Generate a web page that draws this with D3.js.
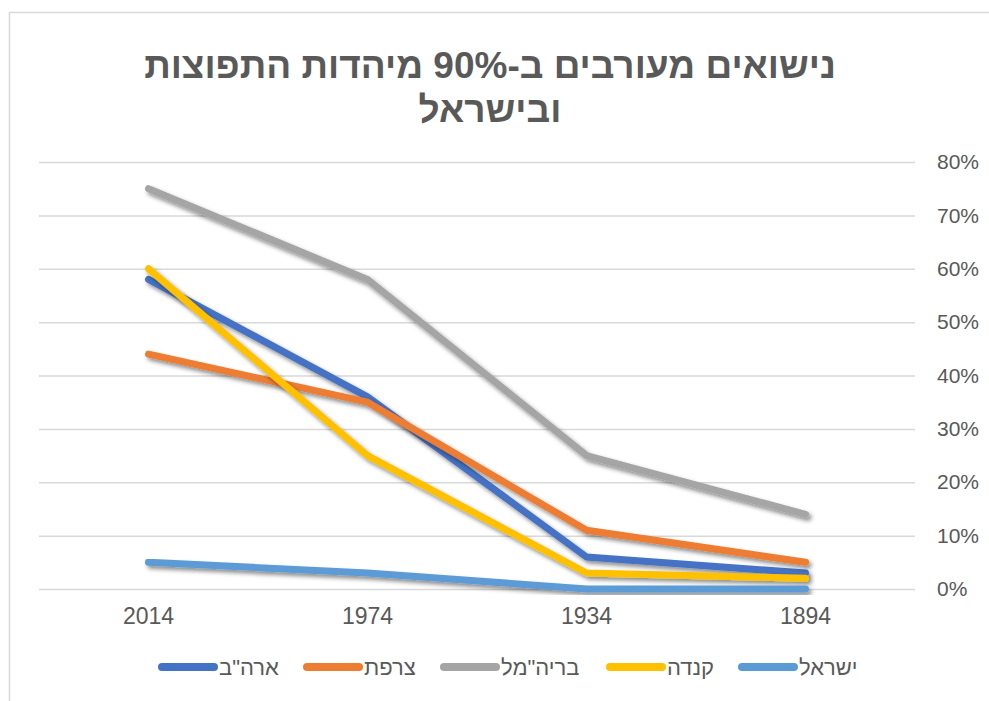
<!DOCTYPE html>
<html>
<head>
<meta charset="utf-8">
<script src="https://cdn.jsdelivr.net/npm/d3@7"></script>
<style>
	body { margin: 0; background: #fff; }
	text { font-family: "Liberation Sans", Arial, sans-serif; fill: #595959; }
</style>
</head>
<body>
<svg id="chart" width="989" height="701"></svg>
<script>
	"use strict";

	var titleLines = ["נישואים מעורבים ב-90% מיהדות התפוצות", "ובישראל"];
	var years = ["2014", "1974", "1934", "1894"];
	var yTicks = [0, 0.1, 0.2, 0.3, 0.4, 0.5, 0.6, 0.7, 0.8];

	var seriesNames = ["ארה\"ב", "צרפת", "בריה\"מל", "קנדה", "ישראל"];
	var seriesColors = ["#4472C4", "#ED7D31", "#A5A5A5", "#FFC000", "#5B9BD5"];
	var usaValues = [0.58, 0.36, 0.06, 0.03];
	var franceValues = [0.44, 0.35, 0.11, 0.05];
	var ussrValues = [0.75, 0.58, 0.25, 0.14];
	var canadaValues = [0.60, 0.25, 0.03, 0.02];
	var israelValues = [0.05, 0.03, 0.00, 0.00];

	var aSeries = [usaValues, franceValues, ussrValues, canadaValues, israelValues].map(function(v, i) {
		return { name: seriesNames[i], color: seriesColors[i], values: v };
	});

	var svg = d3.select("#chart");

	// chart frame (cut off on the right and bottom like the screenshot)
	svg.append("rect")
		.attr("x", 9.5)
		.attr("y", 12.5)
		.attr("width", 1100)
		.attr("height", 800)
		.attr("fill", "#fff")
		.attr("stroke", "#d9d9d9")
		.attr("stroke-width", 1.5);

	var defs = svg.append("defs");
	defs.append("filter")
		.attr("id", "shadow")
		.attr("x", "-10%").attr("y", "-10%")
		.attr("width", "120%").attr("height", "130%")
		.append("feDropShadow")
		.attr("dx", 2.5).attr("dy", 3)
		.attr("stdDeviation", 2.2)
		.attr("flood-color", "#000")
		.attr("flood-opacity", 0.45);

	svg.append("g")
		.selectAll("text")
		.data(titleLines)
		.join("text")
		.attr("x", 490)
		.attr("y", function(d, i) { return 78 + i * 44; })
		.attr("text-anchor", "middle")
		.attr("direction", "rtl")
		.style("font-size", "37px")
		.style("font-weight", "bold")
		.text(function(d) { return d; });

	var margin = { left: 39, right: 915, top: 162, bottom: 589 };

	var x = d3.scaleBand()
		.domain(years)
		.range([margin.left, margin.right]);

	var y = d3.scaleLinear()
		.domain([0, 0.8])
		.range([margin.bottom, margin.top]);

	// gridlines + right axis labels
	var yAxis = svg.append("g")
		.attr("transform", "translate(" + margin.right + ",0)")
		.call(d3.axisRight(y)
			.tickValues(yTicks)
			.tickSize(-(margin.right - margin.left))
			.tickPadding(22)
			.tickFormat(d3.format(".0%")));
	yAxis.select(".domain").remove();
	yAxis.selectAll("line")
		.attr("stroke", "#d9d9d9")
		.attr("stroke-width", 1.5);
	yAxis.selectAll("text")
		.attr("fill", "#595959")
		.style("font-size", "21px");

	var xAxis = svg.append("g")
		.attr("transform", "translate(0," + margin.bottom + ")")
		.call(d3.axisBottom(x).tickSize(0).tickPadding(19));
	xAxis.select(".domain").remove();
	xAxis.selectAll("text")
		.attr("fill", "#595959")
		.style("font-size", "23px");

	var line = d3.line()
		.x(function(d, i) { return x(years[i]) + x.bandwidth() / 2; })
		.y(function(d) { return y(d); });

	svg.append("g")
		.selectAll("path")
		.data(aSeries)
		.join("path")
		.attr("fill", "none")
		.attr("stroke", function(d) { return d.color; })
		.attr("stroke-width", 7)
		.attr("stroke-linejoin", "round")
		.attr("stroke-linecap", "round")
		.attr("filter", "url(#shadow)")
		.attr("d", function(d) { return line(d.values); });

	// legend
	var legendX = [162, 307, 444, 610, 742];
	var legend = svg.append("g")
		.selectAll("g")
		.data(aSeries)
		.join("g")
		.attr("transform", function(d, i) { return "translate(" + legendX[i] + ",667)"; });
	legend.append("line")
		.attr("x1", 0).attr("x2", 52)
		.attr("stroke", function(d) { return d.color; })
		.attr("stroke-width", 8)
		.attr("stroke-linecap", "round");
	legend.append("text")
		.attr("x", 57)
		.attr("dy", "0.36em")
		.style("font-size", "22px")
		.text(function(d) { return d.name; });
</script>
</body>
</html>
